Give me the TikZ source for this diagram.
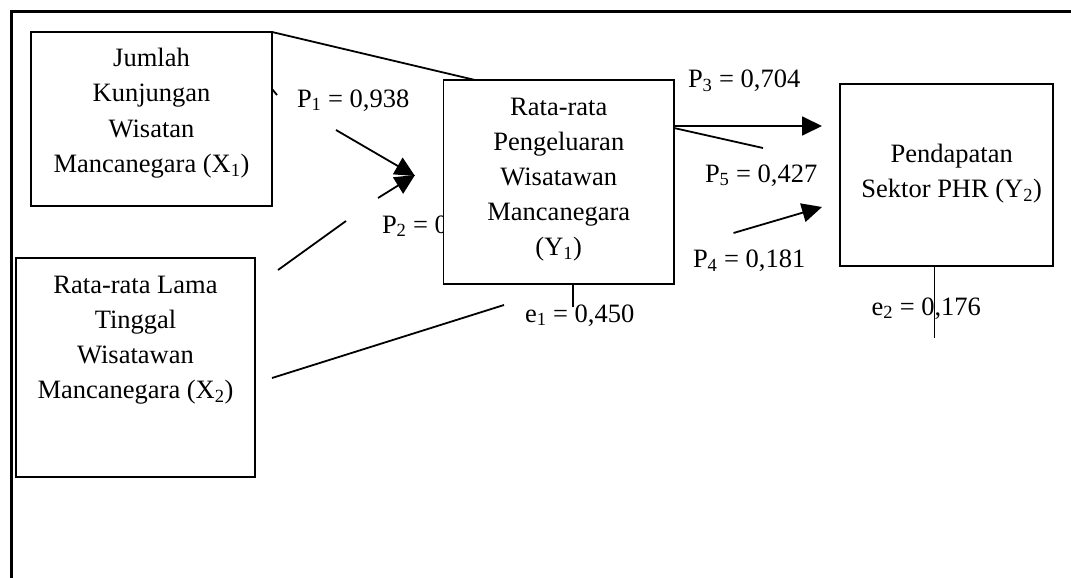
\documentclass[tikz,border=0pt]{standalone}
\usepackage{fontspec}
\setmainfont{Liberation Serif}
\usetikzlibrary{arrows.meta}
\newcommand{\boxtext}[1]{\begin{tabular}[t]{@{}c@{}}#1\end{tabular}}
\begin{document}
\begin{tikzpicture}[x=1pt,y=-1pt,
  every node/.style={font=\fontsize{26.5pt}{35.2pt}\selectfont, inner sep=0pt, outer sep=0pt},
  varbox/.style={draw, line width=1.8pt, rectangle, fill=white},
  txt/.style={anchor=base},
  lbl/.style={anchor=base west},
  link/.style={line width=1.8pt},
  arr/.style={line width=1.8pt, -{Triangle[length=20pt,width=19pt]}},
  frame/.style={line width=3.4pt}]
\useasboundingbox (0,0) rectangle (1071,578);
\fill[white] (0,0) rectangle (1071,578);
% outer frame
\coordinate (fb) at (11.3,578);
\coordinate (fc) at (11.3,11.3);
\coordinate (fr) at (1071,11.3);
\draw[frame] (fb) -- (fc) -- (fr);
% label hidden partly by Y1
\node[lbl] (P2) at (382,233) {P\textsubscript{2} = 0};
% boxes
\node[varbox, minimum width=241pt, minimum height=174pt] (X1) at (151.5,119) {};
\node[varbox, minimum width=239pt, minimum height=219pt] (X2) at (135.5,367.5) {};
\node[varbox, minimum width=230.5pt, minimum height=204pt] (Y1) at (558.75,182) {};
\node[varbox, minimum width=213pt, minimum height=182pt] (Y2) at (946.5,175) {};
% box texts
\node[txt] (X1t) at (151.5,66.7) {\boxtext{Jumlah\\Kunjungan\\Wisatan\\Mancanegara (X\textsubscript{1})}};
\node[txt] (X2t) at (135.5,293.3) {\boxtext{Rata-rata Lama\\Tinggal\\Wisatawan\\Mancanegara (X\textsubscript{2})}};
\node[txt] (Y1t) at (558.75,115) {\boxtext{Rata-rata\\Pengeluaran\\Wisatawan\\Mancanegara\\(Y\textsubscript{1})}};
\node[txt] (Y2t) at (951.7,162.3) {\boxtext{Pendapatan\\Sektor PHR (Y\textsubscript{2})}};
% labels
\node[lbl] (P1) at (297,107) {P\textsubscript{1} = 0,938};
\node[lbl] (P3) at (688,88) {P\textsubscript{3} = 0,704};
\node[lbl] (P5) at (705,182) {P\textsubscript{5} = 0,427};
\node[lbl] (P4) at (693,267.5) {P\textsubscript{4} = 0,181};
\node[lbl] (e1) at (525,322) {e\textsubscript{1} = 0,450};
\node[lbl] (e2) at (871.6,315) {e\textsubscript{2} = 0,176};
% coordinates
\coordinate (c1) at (475,80);
\coordinate (t1) at (272,89);
\coordinate (t2) at (277,95);
\coordinate (a1s) at (336,130);
\coordinate (tip1) at (415,176);
\coordinate (a2s) at (378,198);
\coordinate (tip2) at (415,175);
\coordinate (b1) at (278,270);
\coordinate (b2) at (346,221);
\coordinate (d1) at (272,378);
\coordinate (d2) at (504,305);
\coordinate (e1a) at (572.7,284);
\coordinate (e1b) at (572.7,306.7);
\coordinate (e2a) at (934.4,266);
\coordinate (e2b) at (934.4,338);
\coordinate (p3s) at (674,126);
\coordinate (p3t) at (822,126);
\coordinate (p5s) at (674,128);
\coordinate (p5t) at (763,148);
\coordinate (p4s) at (733.5,233);
\coordinate (p4t) at (822,207);
% connectors
\draw[link] (X1.north east) -- (c1);
\draw[link] (t1) -- (t2);
\draw[arr] (a1s) -- (tip1);
\draw[arr] (a2s) -- (tip2);
\draw[link] (b1) -- (b2);
\draw[link] (d1) -- (d2);
\draw[link] (e1a) -- (e1b);
\draw[link] (e2a) -- (e2b);
\draw[arr] (p3s) -- (p3t);
\draw[link] (p5s) -- (p5t);
\draw[arr] (p4s) -- (p4t);
\end{tikzpicture}
\end{document}
